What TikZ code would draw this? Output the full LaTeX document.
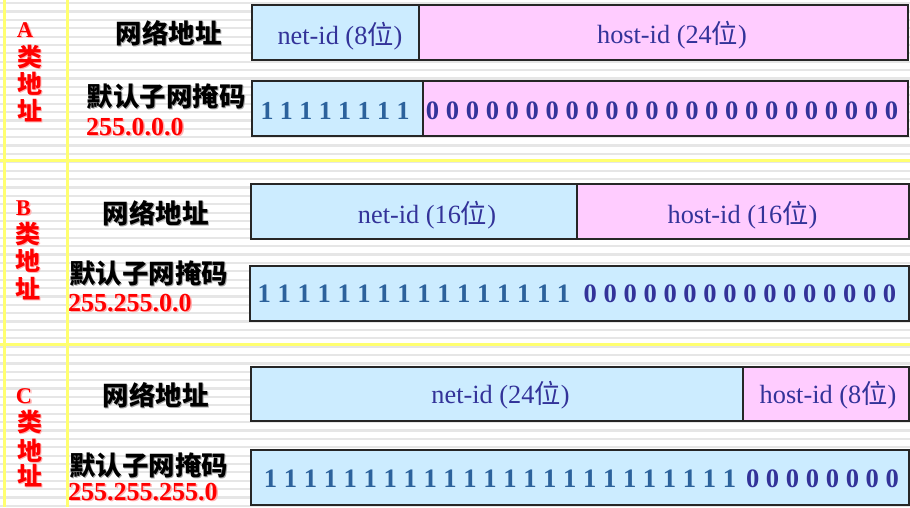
\documentclass[tikz,border=0pt]{standalone}
\usepackage{fontspec}
\setmainfont{Liberation Serif}
\newfontfamily\cjk{Noto Sans CJK SC}
\definecolor{bluefill}{HTML}{CCECFF}
\definecolor{pinkfill}{HTML}{FFCCFF}
\definecolor{navy}{HTML}{333399}
\definecolor{oneblue}{RGB}{44,98,156}
\definecolor{stripe}{HTML}{E6E6E6}
\definecolor{yel}{HTML}{FFFF70}
\newcommand{\shad}[2]{\makebox[0pt][l]{\raisebox{-1.4pt}{\kern1.4pt\color{#1}#2}}#2}
\begin{document}
\begin{tikzpicture}[x=1pt,y=-1pt,
  seg/.style={draw=black!85, line width=1.2pt, inner sep=0pt, outer sep=0pt, anchor=north west},
  netfill/.style={seg, fill=bluefill},
  hostfill/.style={seg, fill=pinkfill},
  idtext/.style={inner sep=0pt, anchor=base, text=navy, font=\fontsize{26.3}{26.3}\selectfont},
  ones/.style={inner sep=0pt, anchor=base, text=oneblue, font=\fontsize{26.6}{26.6}\selectfont\bfseries},
  zeros/.style={inner sep=0pt, anchor=base, text=navy, font=\fontsize{26.6}{26.6}\selectfont\bfseries},
  blk/.style={inner sep=0pt, anchor=base, text=black, font=\fontsize{26.5}{26.5}\selectfont\cjk\bfseries},
  rednum/.style={inner sep=0pt, anchor=base west, text=red, font=\fontsize{26}{26}\selectfont\bfseries},
  redlat/.style={inner sep=0pt, anchor=base, text=red, font=\fontsize{22.5}{22.5}\selectfont\bfseries},
  redcjk/.style={inner sep=0pt, anchor=base, text=red, font=\fontsize{25}{25}\selectfont\cjk\bfseries}]
\useasboundingbox (0,0) rectangle (910,507);
% background
\fill[white] (0,0) rectangle (910,507);
\foreach \k in {0,...,60} \fill[stripe] (0,{2+8.38*\k}) rectangle (910,{4.2+8.38*\k});
\fill[yel] (3,0) rectangle (5.5,507);
\fill[yel] (66,0) rectangle (68.5,507);
\fill[yel] (0,159) rectangle (910,161.5);
\fill[yel] (0,343) rectangle (910,345.5);

% ---------- A ----------
\node[netfill, minimum width=167, minimum height=55] (anet) at (252,5) {};
\node[hostfill, minimum width=489, minimum height=55] (ahost) at (419,5) {};
\node[netfill, minimum width=171, minimum height=55] (amaskn) at (252,81) {};
\node[hostfill, minimum width=485, minimum height=55] (amaskh) at (423,81) {};
\node[idtext] (anettxt) at (340,44) {net-id (8{\cjk 位})};
\node[idtext] (ahosttxt) at (672,43) {host-id (24{\cjk 位})};
\node[ones, font=\fontsize{25.9}{25.9}\selectfont\bfseries] (aones) at (335,119) {1 1 1 1 1 1 1 1};
\node[zeros] (azeros) at (662,119) {0 0 0 0 0 0 0 0 0 0 0 0 0 0 0 0 0 0 0 0 0 0 0 0};
\node[redlat] (aA) at (25,37) {\shad{red!30}{A}};
\node[redcjk] (aL1) at (30,66) {\shad{red!30}{类}};
\node[redcjk] (aL2) at (30,93) {\shad{red!30}{地}};
\node[redcjk] (aL3) at (30,120) {\shad{red!30}{址}};
\node[blk] (anetlbl) at (168.5,43) {\shad{gray!70}{网络地址}};
\node[blk] (amasklbl) at (166,106) {\shad{gray!70}{默认子网掩码}};
\node[rednum] (amasknum) at (86,135) {\shad{red!30}{255.0.0.0}};

% ---------- B ----------
\node[netfill, minimum width=326, minimum height=55] (bnet) at (251,184) {};
\node[hostfill, minimum width=332, minimum height=55] (bhost) at (577,184) {};
\node[netfill, minimum width=659, minimum height=55] (bmask) at (250,266) {};
\node[idtext] (bnettxt) at (427,223) {net-id (16{\cjk 位})};
\node[idtext] (bhosttxt) at (742.5,223) {host-id (16{\cjk 位})};
\node[ones] (bones) at (414,302) {1 1 1 1 1 1 1 1 1 1 1 1 1 1 1 1};
\node[zeros] (bzeros) at (740,302) {0 0 0 0 0 0 0 0 0 0 0 0 0 0 0 0};
\node[redlat] (bB) at (23.5,215) {\shad{red!30}{B}};
\node[redcjk] (bL1) at (28,243) {\shad{red!30}{类}};
\node[redcjk] (bL2) at (28,270) {\shad{red!30}{地}};
\node[redcjk] (bL3) at (28,298) {\shad{red!30}{址}};
\node[blk] (bnetlbl) at (155.5,223) {\shad{gray!70}{网络地址}};
\node[blk] (bmasklbl) at (148.5,283) {\shad{gray!70}{默认子网掩码}};
\node[rednum] (bmasknum) at (68,311) {\shad{red!30}{255.255.0.0}};

% ---------- C ----------
\node[netfill, minimum width=492, minimum height=54] (cnet) at (251,367) {};
\node[hostfill, minimum width=166, minimum height=54] (chost) at (743,367) {};
\node[netfill, minimum width=658, minimum height=55] (cmask) at (251,450) {};
\node[idtext] (cnettxt) at (500.5,403) {net-id (24{\cjk 位})};
\node[idtext] (chosttxt) at (828,403) {host-id (8{\cjk 位})};
\node[ones] (cones) at (500,487) {1 1 1 1 1 1 1 1 1 1 1 1 1 1 1 1 1 1 1 1 1 1 1 1};
\node[zeros] (czeros) at (822.5,487) {0 0 0 0 0 0 0 0};
\node[redlat] (cC) at (24,403) {\shad{red!30}{C}};
\node[redcjk] (cL1) at (29.5,431) {\shad{red!30}{类}};
\node[redcjk] (cL2) at (29.5,460) {\shad{red!30}{地}};
\node[redcjk] (cL3) at (29.5,485) {\shad{red!30}{址}};
\node[blk] (cnetlbl) at (155.5,405) {\shad{gray!70}{网络地址}};
\node[blk] (cmasklbl) at (148.5,475) {\shad{gray!70}{默认子网掩码}};
\node[rednum] (cmasknum) at (68,500) {\shad{red!30}{255.255.255.0}};
\end{tikzpicture}
\end{document}
